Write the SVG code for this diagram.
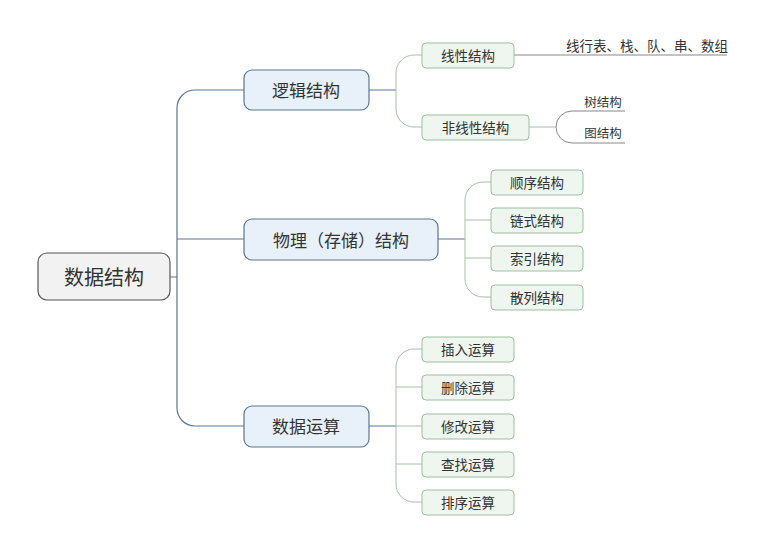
<svg xmlns="http://www.w3.org/2000/svg" width="765" height="554" viewBox="0 0 765 554">
<style>
text{font-family:"Noto Sans CJK SC","Noto Sans",sans-serif;fill:#333;text-anchor:middle;dominant-baseline:central}
.root rect{fill:#f2f2f2;stroke:#555;stroke-width:1.2}
.l1 rect{fill:#e8f0f9;stroke:#5d7690;stroke-width:1.2}
.l2 rect{fill:#eef6ef;stroke:#9dbf9f;stroke-width:1}
.l2 text{font-size:13.5px}
.c1{fill:none;stroke:#5d7690;stroke-width:1.2}
.c2{fill:none;stroke:#a3c2a5;stroke-width:1}
.c3{fill:none;stroke:#888;stroke-width:1}
</style>
<rect width="765" height="554" fill="#fff"/>
<g id="connectors">
<path class="c1" d="M170,277 H177 M244,90 H195 A18,18 0 0 0 177,108 V408 A18,18 0 0 0 195,426 H244 M177,239 H244"/>
<path class="c1" d="M369,90 H396 M438,239 H465 M369,426 H396"/>
<path class="c2" d="M422,55 H414 A18,18 0 0 0 396,73 V109 A18,18 0 0 0 414,127 H422"/>
<path class="c2" d="M491,182 H483 A18,18 0 0 0 465,200 V279 A18,18 0 0 0 483,297 H491 M465,220 H491 M465,258 H491"/>
<path class="c2" d="M422,349 H414 A18,18 0 0 0 396,367 V484 A18,18 0 0 0 414,502 H422 M396,387 H422 M396,426 H422 M396,464 H422"/>
<path class="c3" d="M514,55 H727"/>
<path class="c2" d="M529,127 H556"/>
<path class="c3" d="M625,111 H572 A16,16 0 0 0 572,143 H625"/>
</g>
<g id="root" class="root"><rect x="38" y="253" width="132" height="47" rx="9"/><text x="104" y="276" font-size="20">数据结构</text></g>
<g id="n-logic" class="l1"><rect x="244" y="70" width="125" height="40" rx="8"/><text x="306" y="89" font-size="17">逻辑结构</text></g>
<g id="n-physical" class="l1"><rect x="244" y="219" width="194" height="41" rx="8"/><text x="341" y="239" font-size="17">物理（存储）结构</text></g>
<g id="n-ops" class="l1"><rect x="244" y="406" width="125" height="41" rx="8"/><text x="306" y="425" font-size="17">数据运算</text></g>
<g id="n-linear" class="l2"><rect x="422" y="43" width="92" height="25" rx="4"/><text x="468" y="54.5">线性结构</text></g>
<g id="n-nonlinear" class="l2"><rect x="422" y="115" width="107" height="25" rx="4"/><text x="475.5" y="126.5">非线性结构</text></g>
<g id="n-linear-leaf"><text x="647" y="45" font-size="13.5">线行表、栈、队、串、数组</text></g>
<g id="n-tree"><text x="603" y="101" font-size="12.5">树结构</text></g>
<g id="n-graph"><text x="603" y="132" font-size="12.5">图结构</text></g>
<g id="n-seq" class="l2"><rect x="491" y="170" width="92" height="25" rx="4"/><text x="537" y="181.5">顺序结构</text></g>
<g id="n-link" class="l2"><rect x="491" y="208" width="92" height="25" rx="4"/><text x="537" y="219.5">链式结构</text></g>
<g id="n-index" class="l2"><rect x="491" y="246" width="92" height="25" rx="4"/><text x="537" y="257.5">索引结构</text></g>
<g id="n-hash" class="l2"><rect x="491" y="285" width="92" height="25" rx="4"/><text x="537" y="296.5">散列结构</text></g>
<g id="n-insert" class="l2"><rect x="422" y="337" width="92" height="25" rx="4"/><text x="468" y="348.5">插入运算</text></g>
<g id="n-delete" class="l2"><rect x="422" y="375" width="92" height="25" rx="4"/><text x="468" y="386.5">删除运算</text></g>
<g id="n-modify" class="l2"><rect x="422" y="414" width="92" height="25" rx="4"/><text x="468" y="425.5">修改运算</text></g>
<g id="n-find" class="l2"><rect x="422" y="452" width="92" height="25" rx="4"/><text x="468" y="463.5">查找运算</text></g>
<g id="n-sort" class="l2"><rect x="422" y="490" width="92" height="25" rx="4"/><text x="468" y="501.5">排序运算</text></g>
</svg>
